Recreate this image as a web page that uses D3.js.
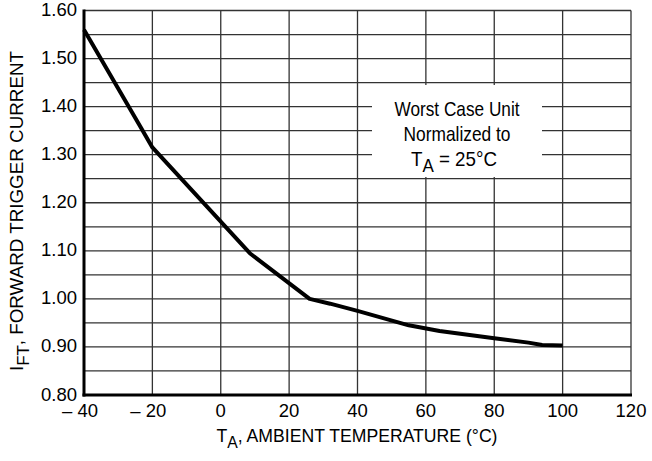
<!DOCTYPE html>
<html>
<head>
<meta charset="utf-8">
<script src="https://cdn.jsdelivr.net/npm/d3@7/dist/d3.min.js"></script>
<style>
  html, body { margin: 0; padding: 0; background: #fff; }
  svg { display: block; }
  text { font-family: "Liberation Sans", Arial, Helvetica, sans-serif; fill: #000; }
</style>
</head>
<body>
<script>
// Normalized forward trigger current vs ambient temperature (worst case unit)
const temperature = [-40, -23.5, -20, 8.5, 26, 32, 40, 55, 64, 80, 90, 94, 100];
const currentRatio = [1.56, 1.358, 1.315, 1.095, 1.0, 0.99, 0.975, 0.945, 0.933, 0.918, 0.909, 0.904, 0.903];

const xTicks = [-40, -20, 0, 20, 40, 60, 80, 100, 120];
const xTickLabels = ["\u2013 40", "\u2013 20", "0", "20", "40", "60", "80", "100", "120"];
const yMajorTicks = [0.8, 0.9, 1.0, 1.1, 1.2, 1.3, 1.4, 1.5, 1.6];
const yTickLabels = ["0.80", "0.90", "1.00", "1.10", "1.20", "1.30", "1.40", "1.50", "1.60"];
const yGridLines = [0.85, 0.9, 0.95, 1.0, 1.05, 1.1, 1.15, 1.2, 1.25, 1.3, 1.35, 1.4, 1.45, 1.5, 1.55, 1.6];

const W = 652, H = 461;
const svg = d3.select("body").append("svg").attr("width", W).attr("height", H);

const x = d3.scaleLinear().domain([-40, 120]).range([84, 631]);
const y = d3.scaleLinear().domain([0.8, 1.6]).range([395, 10.5]);

// grid
const grid = svg.append("g").attr("stroke", "#333").attr("stroke-width", 1.3);
grid.selectAll("line.h").data(yGridLines).join("line")
  .attr("class", "h")
  .attr("x1", x(-40)).attr("x2", x(120))
  .attr("y1", d => y(d)).attr("y2", d => y(d));
grid.selectAll("line.v").data(xTicks.slice(1)).join("line")
  .attr("class", "v")
  .attr("x1", d => x(d)).attr("x2", d => x(d))
  .attr("y1", y(1.6)).attr("y2", y(0.8));

// annotation panel masks the grid behind it
const note = svg.append("g");
note.append("rect")
  .attr("x", 372).attr("y", 85).attr("width", 170).attr("height", 92)
  .attr("fill", "#fff");
note.append("text")
  .attr("x", 457).attr("y", 116)
  .attr("text-anchor", "middle").attr("font-size", 21)
  .attr("textLength", 125).attr("lengthAdjust", "spacingAndGlyphs")
  .text("Worst Case Unit");
note.append("text")
  .attr("x", 457).attr("y", 141)
  .attr("text-anchor", "middle").attr("font-size", 21)
  .attr("textLength", 107).attr("lengthAdjust", "spacingAndGlyphs")
  .text("Normalized to");
const t3 = note.append("text").attr("font-size", 21).attr("x", 411).attr("y", 166)
  .attr("textLength", 86).attr("lengthAdjust", "spacingAndGlyphs");
t3.append("tspan").text("T");
t3.append("tspan").attr("dy", 6).attr("font-size", 19).text("A");
t3.append("tspan").attr("dy", -6).text(" = 25\u00B0C");

// axes (thick left and bottom)
svg.append("line")
  .attr("x1", x(-40)).attr("x2", x(-40))
  .attr("y1", y(1.6) - 1).attr("y2", y(0.8) + 1.5)
  .attr("stroke", "#000").attr("stroke-width", 3);
svg.append("line")
  .attr("x1", x(-40) - 1.5).attr("x2", x(120) + 1)
  .attr("y1", y(0.8)).attr("y2", y(0.8))
  .attr("stroke", "#000").attr("stroke-width", 3);

// curve
const line = d3.line()
  .x((d, i) => x(temperature[i]))
  .y(d => y(d))
  .curve(d3.curveLinear);
svg.append("path")
  .attr("d", line(currentRatio))
  .attr("fill", "none")
  .attr("stroke", "#000")
  .attr("stroke-width", 4)
  .attr("stroke-linejoin", "round");

// tick labels
svg.append("g").selectAll("text").data(yMajorTicks).join("text")
  .attr("x", 77).attr("y", d => y(d)).attr("dy", "0.3em")
  .attr("text-anchor", "end").attr("font-size", 18.5)
  .text((d, i) => yTickLabels[i]);
svg.append("g").selectAll("text").data(xTicks).join("text")
  .attr("x", d => x(d) - (d < 0 ? 4 : 0)).attr("y", 417)
  .attr("text-anchor", "middle").attr("font-size", 18.5)
  .text((d, i) => xTickLabels[i]);

// axis titles
const xt = svg.append("text").attr("x", 357).attr("y", 442)
  .attr("text-anchor", "middle").attr("font-size", 18.5)
  .attr("textLength", 281).attr("lengthAdjust", "spacingAndGlyphs");
xt.append("tspan").text("T");
xt.append("tspan").attr("dy", 6).attr("font-size", 16.5).text("A");
xt.append("tspan").attr("dy", -6).text(", AMBIENT TEMPERATURE (\u00B0C)");

const yt = svg.append("text")
  .attr("transform", "translate(23,211) rotate(-90)")
  .attr("text-anchor", "middle").attr("font-size", 19)
  .attr("textLength", 320).attr("lengthAdjust", "spacingAndGlyphs");
yt.append("tspan").text("I");
yt.append("tspan").attr("dy", 6).attr("font-size", 17).text("FT");
yt.append("tspan").attr("dy", -6).text(", FORWARD TRIGGER CURRENT");
</script>
</body>
</html>
